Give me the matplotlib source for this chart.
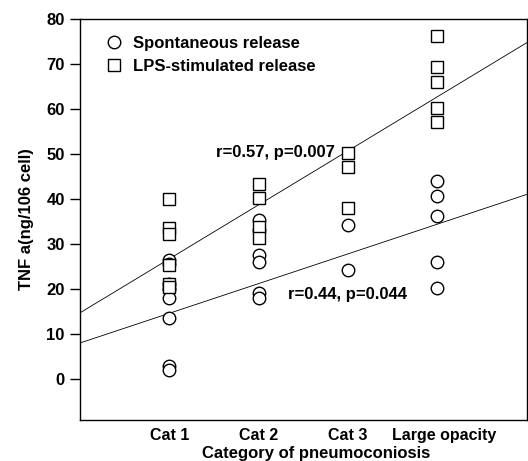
import numpy as np
import matplotlib
matplotlib.use('Agg')
import matplotlib.pyplot as plt
import matplotlib.transforms as mtransforms

plt.rcParams['font.family'] = ['Liberation Sans', 'DejaVu Sans']
plt.rcParams['font.weight'] = 'bold'
plt.rcParams['axes.labelweight'] = 'bold'

categories = ['Cat 1', 'Cat 2', 'Cat 3', 'Large opacity']

# spontaneous release (circles)
spont = {
    'Cat 1': [26.5, 25.5, 21, 20, 18, 13.5, 3, 2],
    'Cat 2': [35.3, 33, 27.5, 26, 19, 18],
    'Cat 3': [34.2, 24.2],
    'Large opacity': [44, 40.6, 36.2, 26, 20.2],
}
# LPS-stimulated release (squares)
lps = {
    'Cat 1': [40, 33.5, 32.3, 25.3, 21, 20.4],
    'Cat 2': [43.3, 40.2, 33.8, 31.3],
    'Cat 3': [50.2, 47.2, 38.1],
    'Large opacity': [76.2, 69.4, 66, 60.3, 57.2],
}

# regression lines (intercept, slope)
lps_fit = (14.7, 12.0)
spont_fit = (8.0, 6.6)

fig = plt.figure(figsize=(5.28, 4.61), dpi=100)
ax = fig.add_axes([0.1515, 0.089, 0.846, 0.87])

for i, c in enumerate(categories):
    xs = np.full(len(spont[c]), i + 1)
    ax.plot(xs, spont[c], 'o', mfc='white', mec='black', ms=9, mew=1.0, zorder=3)
    xs = np.full(len(lps[c]), i + 1)
    ax.plot(xs, lps[c], 's', mfc='white', mec='black', ms=9, mew=1.0, zorder=3)

xx = np.array([0, 5])
ax.plot(xx, lps_fit[0] + lps_fit[1] * xx, color='black', lw=0.6, zorder=2)
ax.plot(xx, spont_fit[0] + spont_fit[1] * xx, color='black', lw=0.6, zorder=2)

ax.text(1.52, 50.3, 'r=0.57, p=0.007', fontsize=12, va='center', ha='left', zorder=4)
ax.text(2.33, 18.8, 'r=0.44, p=0.044', fontsize=12, va='center', ha='left', zorder=4)

# legend
ax.plot([], [], 'o', mfc='white', mec='black', ms=9, mew=1.0, label='Spontaneous release')
ax.plot([], [], 's', mfc='white', mec='black', ms=9, mew=1.0, label='LPS-stimulated release')
h, l = ax.get_legend_handles_labels()
ax.legend(h[-2:], l[-2:], loc='upper left', frameon=False, fontsize=12,
          handletextpad=0.1, borderaxespad=0.4, labelspacing=0.45,
          bbox_to_anchor=(0.01, 0.99))

ax.set_xlim(0, 5)
ax.set_ylim(-9.1, 80)
ax.set_yticks(np.arange(0, 81, 10))
ax.set_xticks(range(1, 5))
ax.set_xticklabels(categories, fontsize=11.5)
ax.tick_params(axis='x', length=0, pad=6)
ax.tick_params(axis='y', length=7, width=1, labelsize=12, pad=4)
for s in ax.spines.values():
    s.set_linewidth(1.0)

# the last category label sits a little right of its column
lab = ax.get_xticklabels()[-1]
lab.set_transform(lab.get_transform() + mtransforms.ScaledTranslation(7 / 100, 0, fig.dpi_scale_trans))

ax.set_xlabel('Category of pneumoconiosis', fontsize=12)
ax.xaxis.set_label_coords(0.528, -0.064)
ax.set_ylabel('TNF a(ng/106 cell)', fontsize=12, labelpad=9)

fig.savefig('out.png', dpi=100)
